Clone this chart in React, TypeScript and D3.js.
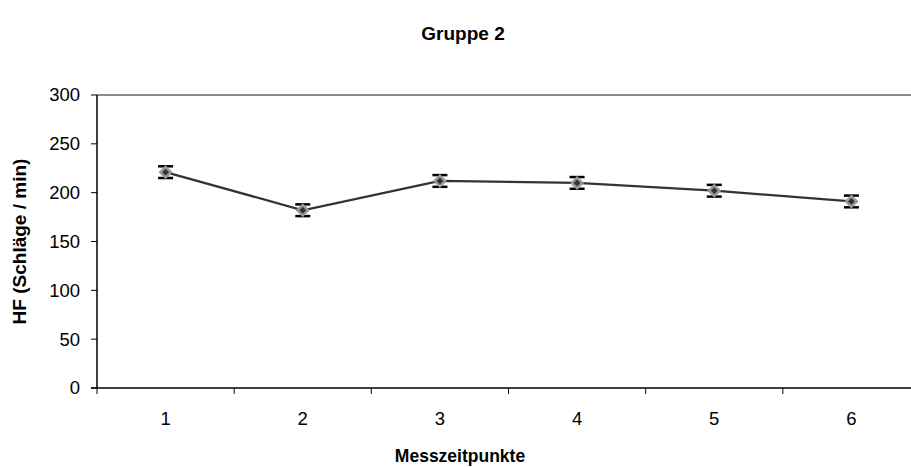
import React from "react";
import * as d3 from "d3";

const categories = ["1", "2", "3", "4", "5", "6"];
const meanHF = [221, 182, 212, 210, 202, 191];
const errHF = [6, 6, 6, 6, 6, 6];
const yTicks = [0, 50, 100, 150, 200, 250, 300];

const W = 911;
const H = 468;
const margin = { left: 97, top: 95, right: -9, bottom: 80 };
const font = "'Liberation Sans', Arial, sans-serif";

export default function App() {
  const x = d3
    .scaleBand<string>()
    .domain(categories)
    .range([margin.left, W - margin.right])
    .padding(0);
  const y = d3.scaleLinear().domain([0, 300]).range([H - margin.bottom, margin.top]);

  const cx = (c: string) => (x(c) as number) + x.bandwidth() / 2;
  const line = d3
    .line<number>()
    .x((_, i) => cx(categories[i]))
    .y((d) => y(d));

  const left = margin.left;
  const right = W - margin.right;
  const top = margin.top;
  const bottom = H - margin.bottom;

  const diamond = (r: number) => `M0,${-r}L${r},0L0,${r}L${-r},0Z`;

  return (
    <svg
      width={W}
      height={H}
      style={{ position: "absolute", left: 0, top: 0, background: "#fff" }}
      fontFamily={font}
    >
      <text x={463} y={40} textAnchor="middle" fontSize={19} fontWeight="bold" fill="#000">
        Gruppe 2
      </text>

      {/* plot frame top edge */}
      <line x1={left} x2={right} y1={top} y2={top} stroke="#8c8c8c" strokeWidth={2} />

      {/* y axis */}
      <line x1={left} x2={left} y1={top} y2={bottom} stroke="#000" strokeWidth={1.5} />
      {yTicks.map((t) => (
        <g key={t}>
          <line x1={left - 6} x2={left} y1={y(t)} y2={y(t)} stroke="#000" strokeWidth={1} />
          <text x={left - 17} y={y(t)} dy="0.35em" textAnchor="end" fontSize={18.5} fill="#000">
            {t}
          </text>
        </g>
      ))}

      {/* x axis */}
      <line x1={left - 6} x2={right} y1={bottom} y2={bottom} stroke="#000" strokeWidth={1.5} />
      {categories.map((c) => (
        <g key={c}>
          <line x1={x(c) as number} x2={x(c) as number} y1={bottom} y2={bottom + 6} stroke="#000" strokeWidth={1} />
          <text x={cx(c)} y={bottom + 31} dy="0.35em" textAnchor="middle" fontSize={18.5} fill="#000">
            {c}
          </text>
        </g>
      ))}

      <text x={460} y={462} textAnchor="middle" fontSize={17.5} fontWeight="bold" fill="#000">
        Messzeitpunkte
      </text>
      <text
        transform={`translate(26,${(top + bottom) / 2}) rotate(-90)`}
        textAnchor="middle"
        fontSize={19}
        fontWeight="bold"
        fill="#000"
      >
        HF (Schläge / min)
      </text>

      {/* mean line */}
      <path d={line(meanHF) ?? ""} fill="none" stroke="#333" strokeWidth={2.2} />

      {/* error bars and markers */}
      {meanHF.map((v, i) => {
        const px = cx(categories[i]);
        const y1 = y(v + errHF[i]);
        const y2 = y(v - errHF[i]);
        return (
          <g key={i}>
            <line x1={px} x2={px} y1={y1} y2={y2} stroke="#000" strokeWidth={1.5} />
            <line x1={px - 7.5} x2={px + 7.5} y1={y1} y2={y1} stroke="#000" strokeWidth={2.5} />
            <line x1={px - 7.5} x2={px + 7.5} y1={y2} y2={y2} stroke="#000" strokeWidth={2.5} />
            <g transform={`translate(${px},${y(v)})`}>
              <path d={diamond(7)} fill="#999" />
              <path d={diamond(3.4)} fill="#333" />
            </g>
          </g>
        );
      })}
    </svg>
  );
}
